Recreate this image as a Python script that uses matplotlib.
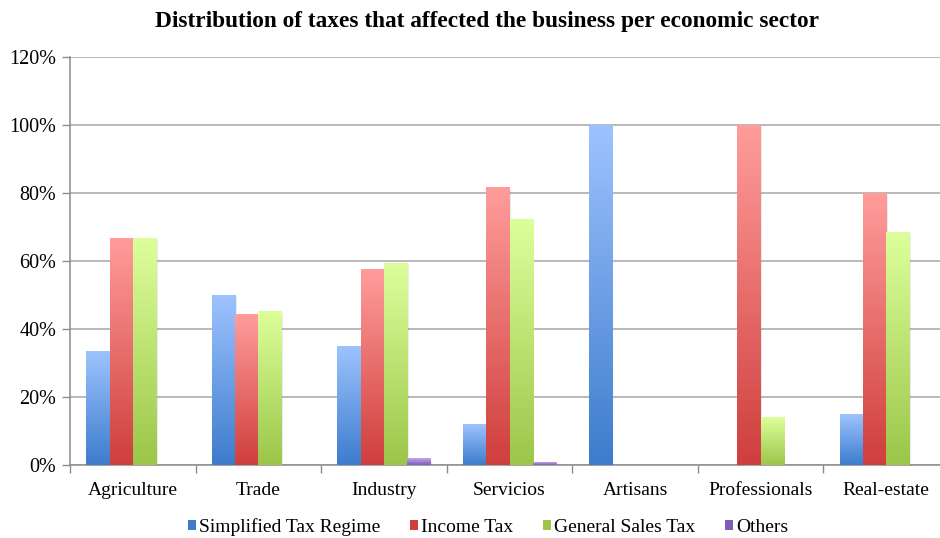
import numpy as np
import matplotlib.pyplot as plt
from matplotlib.colors import LinearSegmentedColormap
from matplotlib.patches import Patch

sectors = ["Agriculture", "Trade", "Industry", "Servicios", "Artisans", "Professionals", "Real-estate"]
series = ["Simplified Tax Regime", "Income Tax", "General Sales Tax", "Others"]

simplified = [33.3, 50.0, 35.0, 11.8, 100.0, 0.0, 14.9]
income = [66.7, 44.4, 57.4, 81.6, 0.0, 100.0, 80.0]
sales = [66.7, 45.2, 59.3, 72.2, 0.0, 14.0, 68.3]
others = [0.0, 0.0, 1.9, 0.8, 0.0, 0.0, 0.0]

# (top colour, bottom colour) for each series gradient
grads = [("#9dc3ff", "#3d7ccc"), ("#ff9d9b", "#cf3e3c"), ("#ddff9b", "#9bc649"), ("#c3a6ea", "#7e5cb5")]

plt.rcParams["font.family"] = ["Liberation Serif", "DejaVu Serif"]

fig = plt.figure(figsize=(9.4, 5.38), dpi=100)
ax = fig.add_axes([70 / 940, (538 - 465) / 538, 879 / 940, 408 / 538])

x = np.arange(len(sectors))
w = 0.185
grad = np.linspace(0, 1, 256).reshape(-1, 1)

for i, vals in enumerate([simplified, income, sales, others]):
    bars = ax.bar(x + (i - 1.5) * w, vals, w, color="none", edgecolor="none", zorder=3)
    cmap = LinearSegmentedColormap.from_list(series[i], [grads[i][0], grads[i][1]])
    for b in bars:
        h = b.get_height()
        if h <= 0:
            continue
        x0 = b.get_x()
        # soft shadow to the right
        ax.fill_between([x0 + w, x0 + w + 0.012], 0, h - 0.6, color="#000000", alpha=0.08, lw=0, zorder=2)
        ax.imshow(grad, extent=[x0, x0 + w, 0, h], aspect="auto", cmap=cmap, zorder=3, interpolation="bicubic")

ax.set_xlim(-0.5, len(sectors) - 0.5)
ax.set_ylim(0, 120)
ax.set_yticks(np.arange(0, 121, 20))
ax.set_yticklabels(["%d%%" % v for v in range(0, 121, 20)], fontsize=14.5)
ax.yaxis.grid(True, color="#a6a6a6", lw=1.1, zorder=0)
ax.set_xticks(x)
ax.set_xticklabels(sectors, fontsize=14)
ax.tick_params(axis="x", length=0, pad=12)
ax.set_xticks(np.arange(-0.5, len(sectors), 1), minor=True)
ax.tick_params(axis="x", which="minor", length=6, color="#8c8c8c", width=1)
ax.tick_params(axis="y", length=6, color="#8c8c8c", width=1, pad=4)
for s in ["top", "right"]:
    ax.spines[s].set_visible(False)
for s in ["left", "bottom"]:
    ax.spines[s].set_color("#8c8c8c")
    ax.spines[s].set_linewidth(1.1)

fig.text(487 / 940, 1 - 21 / 538, "Distribution of taxes that affected the business per economic sector",
         ha="center", va="center", fontsize=16.8, fontweight="bold")

handles = [Patch(facecolor=grads[i][1], edgecolor="none") for i in range(4)]
fig.legend(handles, series, loc="center", bbox_to_anchor=(488 / 940, 1 - 527 / 538), ncol=4, frameon=False,
           fontsize=14, handlelength=0.45, handleheight=0.45, handletextpad=0.15, columnspacing=1.5)

fig.savefig("out.png", dpi=100)
